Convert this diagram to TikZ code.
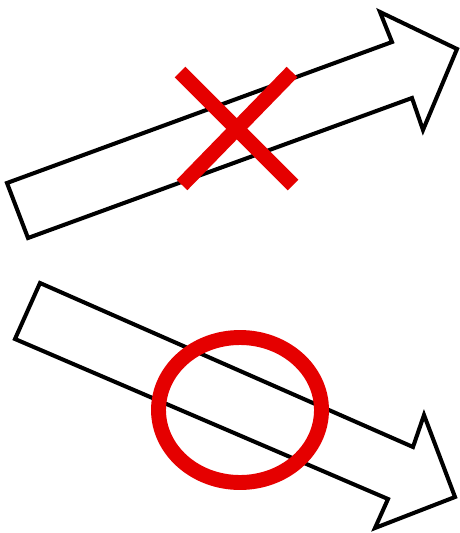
\documentclass[tikz,border=0pt]{standalone}
\begin{document}
\begin{tikzpicture}[x=0.02cm, y=-0.02cm]

\colorlet{cMark}{red!90!black}

%% canvas: 459 x 533 px, y downwards
\useasboundingbox (0,0) rectangle (459,533);

%% ---------- upper arrow: rising, crossed out ----------
\draw[black, line width=2.3pt, fill=white]
  (28,238) -- (7,183) -- (392,42) -- (380,12) -- (457,49)
  -- (423,130) -- (412,98) -- cycle;
\draw[cMark, line width=8.5pt] (180,72) -- (293,185);
\draw[cMark, line width=8.5pt] (292,72) -- (182,185);

%% ---------- lower arrow: falling, circled ----------
\draw[black, line width=2.3pt, fill=white]
  (40,283) -- (15,339) -- (388,499) -- (375,528) -- (455,497)
  -- (424,415) -- (413,447) -- cycle;
\draw[cMark, line width=8.5pt] (240,410) ellipse [x radius=81.5, y radius=72.5];

\end{tikzpicture}
\end{document}
